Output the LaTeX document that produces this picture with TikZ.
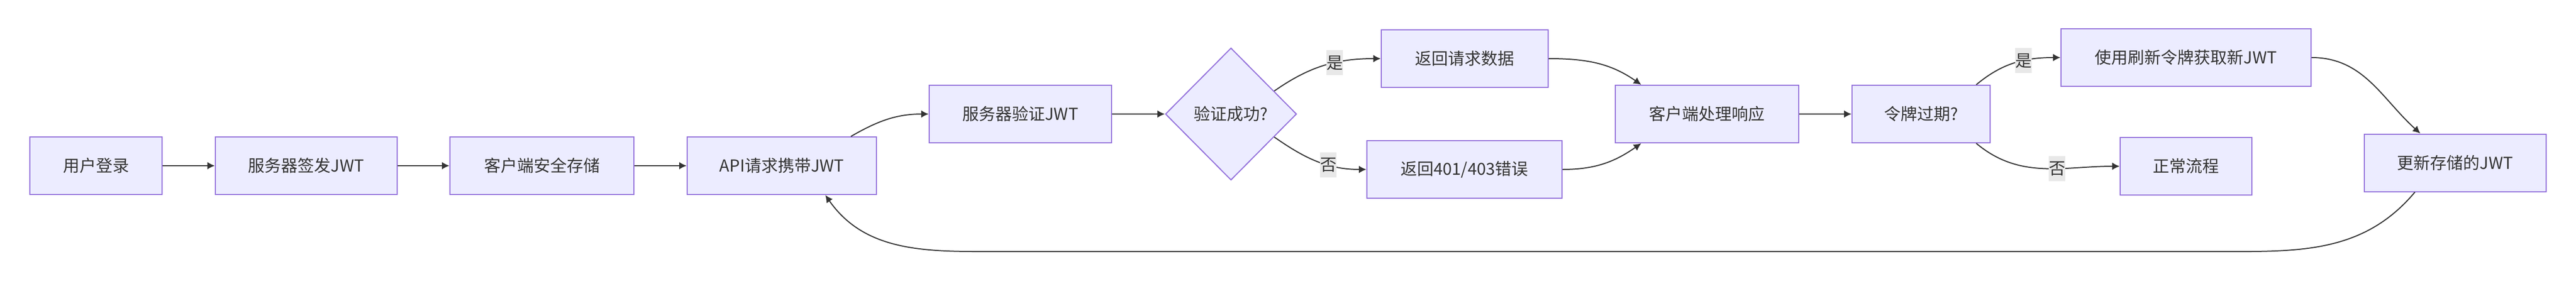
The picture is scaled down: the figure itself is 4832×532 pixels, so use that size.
\documentclass[tikz,border=0pt]{standalone}
\usepackage{fontspec}
\setmainfont{Noto Sans CJK SC}
\usetikzlibrary{shapes.geometric,arrows.meta}
\definecolor{boxfill}{HTML}{ECECFF}
\definecolor{boxline}{HTML}{9370DB}
\definecolor{ink}{HTML}{333333}
\definecolor{lblfill}{HTML}{E8E8E8}
\tikzset{box/.style={draw=boxline, fill=boxfill, line width=1pt, text=ink,
        minimum height=54pt, inner sep=0pt},
    decision/.style={diamond, draw=boxline, fill=boxfill, line width=1pt, text=ink,
        inner sep=0pt, minimum width=123pt, minimum height=124pt},
    flow/.style={draw=ink, line width=1pt, -{Latex[length=7pt,width=7pt]}},
    lbl/.style={fill=lblfill, text=ink, inner sep=0pt, minimum height=23.5pt, minimum width=15.5pt}
}

\begin{document}
\begin{tikzpicture}[x=0.5pt, y=0.5pt, font=\fontsize{15.5pt}{18pt}\selectfont]
      \fill[white] (0,0) rectangle (4832,-532);
      \node[box, minimum width=124pt] (login) at (180,-311) {用户登录};
      \node[box, minimum width=170.5pt] (issue) at (574.5,-311) {服务器签发JWT};
      \node[box, minimum width=172.5pt] (store) at (1016.5,-311) {客户端安全存储};
      \node[box, minimum width=177.5pt] (api) at (1466.5,-311) {API请求携带JWT};
      \node[box, minimum width=171pt] (verify) at (1914,-214) {服务器验证JWT};
      \node[decision] (ok) at (2309,-214) {验证成功?};
      \node[box, minimum width=156.5pt] (data) at (2747.5,-110) {返回请求数据};
      \node[box, minimum width=183pt] (err) at (2747,-318) {返回401/403错误};
      \node[box, minimum width=172pt] (client) at (3202,-214) {客户端处理响应};
      \node[box, minimum width=129.5pt] (expired) at (3603.5,-214) {令牌过期?};
      \node[box, minimum width=234.5pt] (refresh) at (4100.5,-108) {使用刷新令牌获取新JWT};
      \node[box, minimum width=123.5pt] (normal) at (4100.5,-312) {正常流程};
      \node[box, minimum width=170.5pt] (update) at (4605.5,-305.5) {更新存储的JWT};
      \coordinate (backR) at (4150,-472);
      \coordinate (backL) at (1830,-472);
      % main line
      \draw[flow] (login) -- (issue);
      \draw[flow] (issue) -- (store);
      \draw[flow] (store) -- (api);
      \draw[flow] (api.23) to[out=30, in=180] (verify.west);
      \draw[flow] (verify) -- (ok);
      \draw[flow] (ok.28) to[out=35, in=180] node[lbl, pos=0.6] {是} (data.west);
      \draw[flow] (ok.-28) to[out=-35, in=180] node[lbl, pos=0.62] {否} (err.west);
      \draw[flow] (data.east) to[out=0, in=145] (client.156);
      \draw[flow] (err.east) to[out=0, in=-145] (client.-156);
      \draw[flow] (client) -- (expired);
      \draw[flow] (expired.28) to[out=40, in=180] node[lbl, pos=0.6] {是} (refresh.west);
      \draw[flow] (expired.-28) to[out=-40, in=180] node[lbl, pos=0.6] {否} (normal.west);
      \draw[flow] (refresh.east) to[out=0, in=138] (update.140);
      % back to the request
      \draw[flow] (update.-144) to[out=-130, in=0] (backR) -- (backL) to[out=180, in=-55] (api.-34);
    \end{tikzpicture}
\end{document}
